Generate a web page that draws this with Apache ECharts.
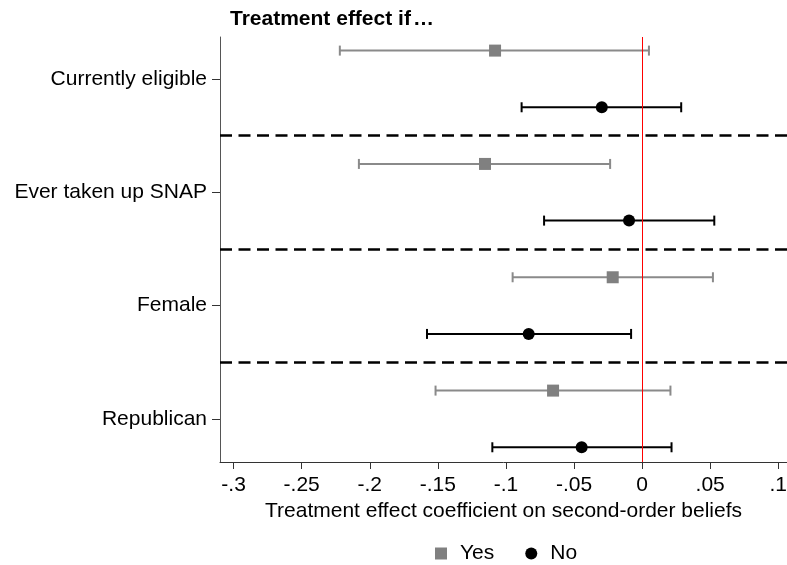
<!DOCTYPE html>
<html>
<head>
<meta charset="utf-8">
<script src="https://cdn.jsdelivr.net/npm/echarts@6/dist/echarts.min.js"></script>
<style>
html, body { margin: 0; padding: 0; background: #fff; }
#chart { width: 787px; height: 565px; }
</style>
</head>
<body>
<div id="chart"></div>
<script>
// groups on the y axis, top to bottom
var groups = ['Currently eligible', 'Ever taken up SNAP', 'Female', 'Republican'];

// "Yes" estimates and 95% CI
var yesEst = [-0.108, -0.1154, -0.0216, -0.0654];
var yesLo = [-0.222, -0.208, -0.0951, -0.1517];
var yesHi = [0.005, -0.0235, 0.052, 0.0208];

// "No" estimates and 95% CI
var noEst = [-0.0296, -0.0096, -0.0833, -0.0444];
var noLo = [-0.0885, -0.072, -0.158, -0.110];
var noHi = [0.0287, 0.053, -0.0081, 0.0216];

var xTicks = [-0.3, -0.25, -0.2, -0.15, -0.1, -0.05, 0, 0.05, 0.1];
var groupTicks = [1, 2, 3, 4];
var separators = [1.5, 2.5, 3.5];

var FONT = '"Liberation Sans", Arial, Helvetica, sans-serif';

// rows: Yes a bit above the group tick, No a bit below
function points(est, off) {
    return est.map(function (v, i) { return [v, i + 1 + off]; });
}
function bars(lo, hi, off) {
    return lo.map(function (v, i) { return [v, hi[i], i + 1 + off]; });
}

function errorBar(color, width) {
    return function (params, api) {
        var a = api.coord([api.value(0), api.value(2)]);
        var b = api.coord([api.value(1), api.value(2)]);
        var h = 5;
        var st = { stroke: color, lineWidth: width };
        return {
            type: 'group',
            children: [
                { type: 'line', shape: { x1: a[0], y1: a[1], x2: b[0], y2: b[1] }, style: st },
                { type: 'line', shape: { x1: a[0], y1: a[1] - h, x2: a[0], y2: a[1] + h }, style: st },
                { type: 'line', shape: { x1: b[0], y1: b[1] - h, x2: b[0], y2: b[1] + h }, style: st }
            ]
        };
    };
}

function fmtX(v) {
    var s = String(+(+v).toFixed(2));
    return s.replace('0.', '.');
}

var chart = echarts.init(document.getElementById('chart'));
chart.setOption({
    animation: false,
    textStyle: { fontFamily: FONT },
    title: {
        text: '{b|Treatment effect if}{n|…}',
        left: 230,
        top: 9,
        padding: 0,
        textStyle: {
            rich: {
                b: { fontFamily: FONT, fontWeight: 'bold', fontSize: 21, color: '#000' },
                n: { fontFamily: FONT, fontSize: 21, color: '#000', padding: [0, 0, 0, 2] }
            }
        }
    },
    legend: {
        data: ['Yes', 'No'],
        left: 430,
        top: 538,
        itemWidth: 12,
        itemHeight: 12,
        itemGap: 31,
        textStyle: { fontFamily: FONT, fontSize: 21, color: '#000', padding: [0, 0, 0, 8] }
    },
    grid: {
        left: 220,
        right: 0,
        top: 37,
        bottom: 103,
        outerBoundsMode: 'none'
    },
    xAxis: {
        type: 'value',
        min: -0.31,
        max: 0.1064,
        splitLine: { show: false },
        axisLine: { onZero: false, lineStyle: { color: '#333', width: 1 } },
        axisTick: { length: 7, customValues: xTicks, lineStyle: { color: '#333' } },
        axisLabel: {
            customValues: xTicks,
            formatter: fmtX,
            fontFamily: FONT,
            fontSize: 21,
            color: '#000',
            margin: 13
        },
        name: 'Treatment effect coefficient on second-order beliefs',
        nameLocation: 'middle',
        nameGap: 32,
        nameTextStyle: { fontFamily: FONT, fontSize: 21, color: '#000' }
    },
    yAxis: {
        type: 'value',
        inverse: true,
        min: 0.63,
        max: 4.38,
        splitLine: { show: false },
        axisLine: { show: true, onZero: false, lineStyle: { color: '#555', width: 1 } },
        axisTick: { show: true, length: 8, customValues: groupTicks, lineStyle: { color: '#333' } },
        axisLabel: {
            customValues: groupTicks,
            formatter: function (v) { return groups[Math.round(v) - 1]; },
            fontFamily: FONT,
            fontSize: 21,
            color: '#000',
            margin: 13
        }
    },
    series: [
        {
            name: 'YesCI',
            type: 'custom',
            renderItem: errorBar('#8a8a8a', 2),
            encode: { x: [0, 1], y: 2 },
            data: bars(yesLo, yesHi, -0.25),
            silent: true,
            markLine: {
                silent: true,
                symbol: 'none',
                label: { show: false },
                data: separators.map(function (s) {
                    return { yAxis: s, lineStyle: { color: '#000', width: 2.5, type: [12, 6.5] } };
                }).concat([{ xAxis: 0, lineStyle: { color: '#ff0000', width: 1, type: 'solid' } }])
            }
        },
        {
            name: 'NoCI',
            type: 'custom',
            renderItem: errorBar('#000', 2),
            encode: { x: [0, 1], y: 2 },
            data: bars(noLo, noHi, 0.25),
            silent: true
        },
        {
            name: 'Yes',
            type: 'scatter',
            symbol: 'rect',
            symbolSize: 12,
            itemStyle: { color: '#808080', opacity: 1 },
            data: points(yesEst, -0.25),
            z: 3
        },
        {
            name: 'No',
            type: 'scatter',
            symbol: 'circle',
            symbolSize: 12,
            itemStyle: { color: '#000', opacity: 1 },
            data: points(noEst, 0.25),
            z: 3
        }
    ]
});
</script>
</body>
</html>
